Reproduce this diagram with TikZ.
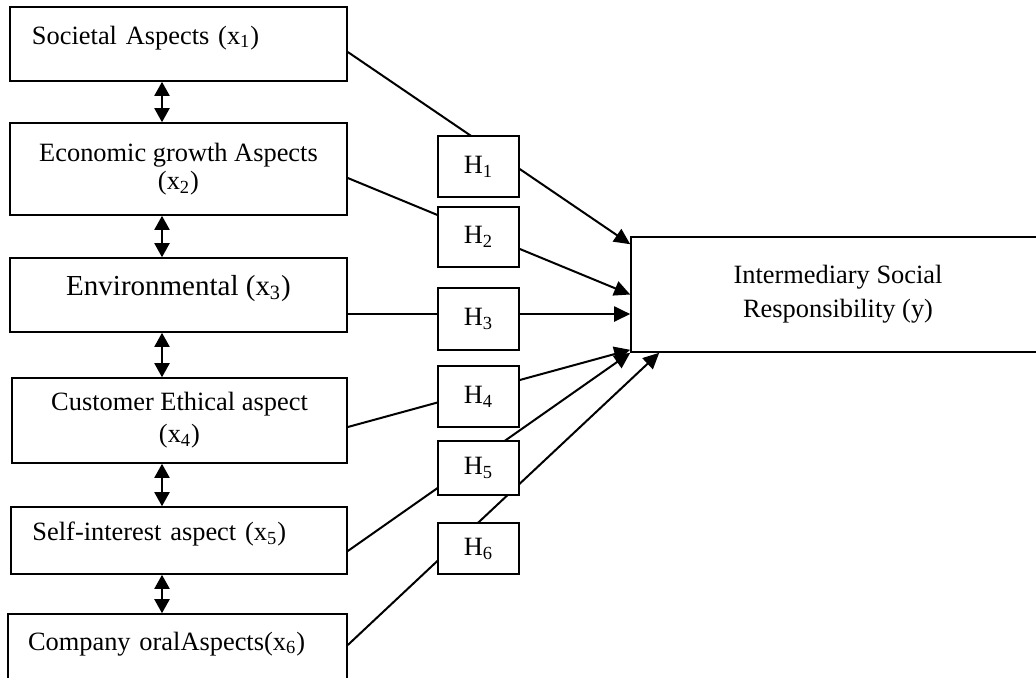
\documentclass[tikz,border=0pt]{standalone}
\usepackage{fontspec}
\setmainfont{Liberation Serif}
\usetikzlibrary{arrows.meta}

\begin{document}
\begin{tikzpicture}[x=0.5pt, y=-0.5pt,
    every node/.style={font=\fontsize{13.2}{15.5}\selectfont},
    factor/.style={draw, line width=0.8pt, inner sep=0pt},
    left text/.style={text width=146.5pt, align=left, text height=6pt, text depth=6pt},
    mid text/.style={align=center},
    hyp/.style={factor, fill=white, minimum width=40.5pt},
    link/.style={line width=1pt, -{Triangle[length=8pt, width=7.5pt]}},
    both/.style={line width=1pt, {Triangle[length=7pt, width=7.5pt]}-{Triangle[length=7pt, width=7.5pt]}}]
  \useasboundingbox (0,0) rectangle (1036,677);

  % the six aspects
  \node[factor, left text, minimum width=168.5pt, minimum height=37pt] (x1) at (178.5,44) {Societal Aspects (x\textsubscript{1})};
  \node[factor, mid text, minimum width=168.5pt, minimum height=46pt] (x2) at (178.5,169) {Economic growth Aspects\\[-1.5pt] (x\textsubscript{2})};
  \node[factor, minimum width=168.5pt, minimum height=37pt, text height=6pt, text depth=6pt,
        font=\fontsize{14.5}{17}\selectfont] (x3) at (178.5,295) {Environmental (x\textsubscript{3})};
  \node[factor, mid text, minimum width=167.5pt, minimum height=42.5pt] (x4) at (179.5,420.5) {Customer Ethical aspect\\[0.5pt] (x\textsubscript{4})};
  \node[factor, left text, minimum width=168pt, minimum height=33.5pt] (x5) at (179,540.5) {Self-interest aspect (x\textsubscript{5})};
  \node[factor, left text, text width=149.5pt, minimum width=169.5pt, minimum height=36pt] (x6) at (177.5,650) {Company oralAspects(x\textsubscript{6})};

  % outcome
  \node[factor, mid text, minimum width=207pt, minimum height=57.5pt] (y) at (838,294.5) {Intermediary Social\\[1.5pt] Responsibility (y)};

  \coordinate (axis) at (162,0);
  \foreach \a/\b in {x1/x2, x2/x3, x3/x4, x4/x5, x5/x6}
    \draw[both] (\a.south -| axis) -- (\b.north -| axis);

  \draw[link] ([yshift=-4pt]x1.east) -- ([yshift=-4pt]y.north west);
  \draw[link] ([yshift=-4.5pt]x2.east) -- (y.west);
  \draw[link] ([yshift=-9.5pt]x3.east) -- ([yshift=-9.5pt]x3.east -| y.west);
  \draw[link] ([yshift=-3.25pt]x4.east) -- ([yshift=1.5pt]y.south west);
  \draw[link] ([yshift=-5.25pt]x5.east) -- (y.south west);
  \draw[link] ([yshift=2.5pt]x6.east) -- ([xshift=14.5pt]y.south west);

  % hypotheses on top of the paths
  \node[hyp, minimum height=30.5pt] (h1) at (478.5,166.5) {H\textsubscript{1}};
  \node[hyp, minimum height=30pt] (h2) at (478.5,237) {H\textsubscript{2}};
  \node[hyp, minimum height=31pt] (h3) at (478.5,319) {H\textsubscript{3}};
  \node[hyp, minimum height=30.5pt] (h4) at (478.5,396.5) {H\textsubscript{4}};
  \node[hyp, minimum height=27pt] (h5) at (478.5,468) {H\textsubscript{5}};
  \node[hyp, minimum height=25.5pt] (h6) at (478.5,548.5) {H\textsubscript{6}};
\end{tikzpicture}
\end{document}
